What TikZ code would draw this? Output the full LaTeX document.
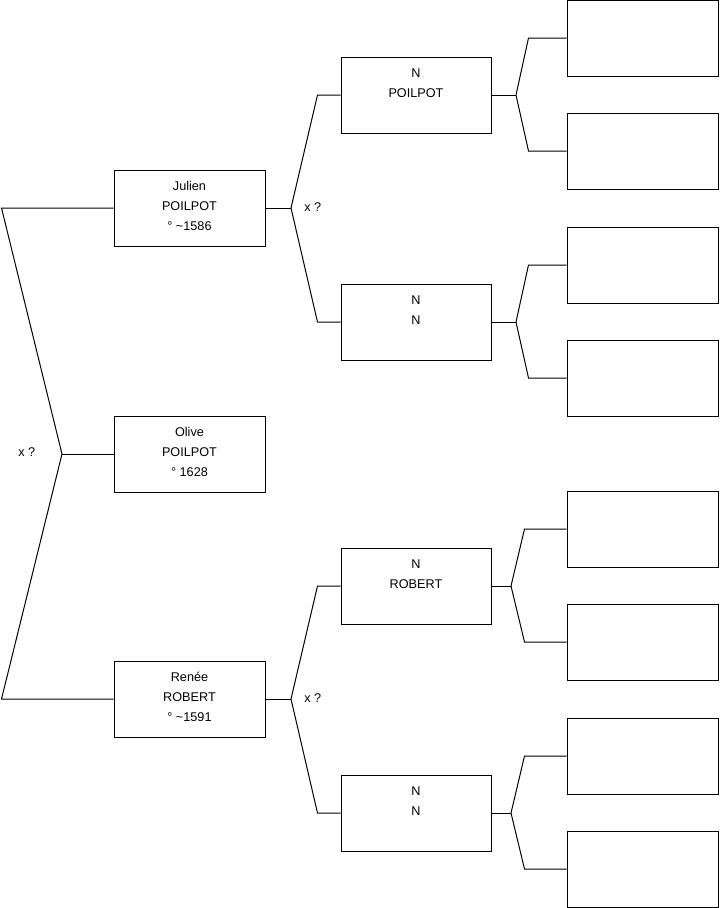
\documentclass[tikz,border=0pt]{standalone}
\usepackage{fontspec}
\setmainfont{Liberation Sans}
\usetikzlibrary{calc}
\tikzset{
  pers/.style={draw=black,line width=0.75pt,align=center,inner sep=0pt,
               minimum width=113.25pt,minimum height=57pt,text depth=3pt,
               font=\fontsize{9.5}{15}\selectfont},
  anc/.style={pers,minimum width=112.5pt},
  link/.style={line width=0.75pt,black},
  xq/.style={font=\fontsize{9.5}{11}\selectfont,inner sep=0pt,anchor=west},
}

\begin{document}
\begin{tikzpicture}[x=0.75pt,y=-0.75pt]
  \useasboundingbox (0,0) rectangle (719,908);
  % generation 1
  \node[pers] (julien) at (189.5,208) {Julien\\POILPOT\\° \textasciitilde1586};
  \node[pers] (olive)  at (189.5,454) {Olive\\POILPOT\\° 1628};
  \node[pers] (renee)  at (189.5,699) {Renée\\ROBERT\\° \textasciitilde1591};
  % generation 2
  \node[anc] (pj1) at (416,95)  {N\\POILPOT\\\mbox{}};
  \node[anc] (pj2) at (416,322) {N\\N\\\mbox{}};
  \node[anc] (pr1) at (416,586) {N\\ROBERT\\\mbox{}};
  \node[anc] (pr2) at (416,813) {N\\N\\\mbox{}};
  % generation 3 (empty)
  \node[pers] (g1) at (642.5,38)  {};
  \node[pers] (g2) at (642.5,151) {};
  \node[pers] (g3) at (642.5,265) {};
  \node[pers] (g4) at (642.5,378) {};
  \node[pers] (g5) at (642.5,529) {};
  \node[pers] (g6) at (642.5,642) {};
  \node[pers] (g7) at (642.5,756) {};
  \node[pers] (g8) at (642.5,869) {};

  % forks
  \coordinate (froot) at (62,454);
  \coordinate (fjul) at (291,208);
  \coordinate (fren) at (291,699);
  \coordinate (fpj1) at (516,95);
  \coordinate (fpj2) at (516,322);
  \coordinate (fpr1) at (511,586);
  \coordinate (fpr2) at (511,813);

  \draw[link] (olive.west) -- (froot);
  \draw[link] (froot) -- ($(julien.west)+(-112,0)$) -- (julien.west);
  \draw[link] (froot) -- ($(renee.west)+(-112,0)$) -- (renee.west);
  \node[xq] (xroot) at (18,452) {x ?};

  \draw[link] (julien.east) -- (fjul);
  \draw[link] (fjul) -- ($(pj1.west)+(-23,0)$) -- (pj1.west);
  \draw[link] (fjul) -- ($(pj2.west)+(-23,0)$) -- (pj2.west);
  \node[xq] (xjul) at (304,207) {x ?};

  \draw[link] (renee.east) -- (fren);
  \draw[link] (fren) -- ($(pr1.west)+(-23,0)$) -- (pr1.west);
  \draw[link] (fren) -- ($(pr2.west)+(-23,0)$) -- (pr2.west);
  \node[xq] (xren) at (304,698) {x ?};

  \draw[link] (pj1.east) -- (fpj1);
  \draw[link] (fpj1) -- ($(g1.west)+(-38,0)$) -- (g1.west);
  \draw[link] (fpj1) -- ($(g2.west)+(-38,0)$) -- (g2.west);
  \draw[link] (pj2.east) -- (fpj2);
  \draw[link] (fpj2) -- ($(g3.west)+(-38,0)$) -- (g3.west);
  \draw[link] (fpj2) -- ($(g4.west)+(-38,0)$) -- (g4.west);
  \draw[link] (pr1.east) -- (fpr1);
  \draw[link] (fpr1) -- ($(g5.west)+(-42,0)$) -- (g5.west);
  \draw[link] (fpr1) -- ($(g6.west)+(-42,0)$) -- (g6.west);
  \draw[link] (pr2.east) -- (fpr2);
  \draw[link] (fpr2) -- ($(g7.west)+(-42,0)$) -- (g7.west);
  \draw[link] (fpr2) -- ($(g8.west)+(-42,0)$) -- (g8.west);
\end{tikzpicture}
\end{document}
